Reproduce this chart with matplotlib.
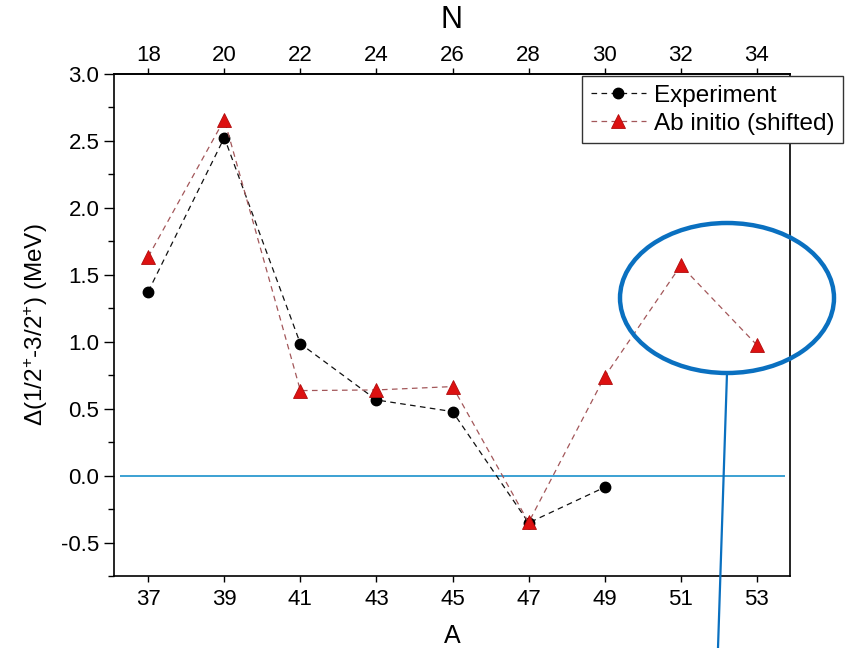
import matplotlib
matplotlib.use("Agg")
import matplotlib.pyplot as plt
from matplotlib.patches import Ellipse
from matplotlib.ticker import MultipleLocator

# mass number A and measured / computed level splitting (MeV)
A_EXP = [37, 39, 41, 43, 45, 47, 49]
DELTA_EXP = [1.375, 2.525, 0.985, 0.565, 0.478, -0.353, -0.087]

A_THEORY = [37, 39, 41, 43, 45, 47, 49, 51, 53]
DELTA_THEORY = [1.635, 2.66, 0.635, 0.64, 0.665, -0.35, 0.74, 1.57, 0.975]

A_TICKS = [37, 39, 41, 43, 45, 47, 49, 51, 53]
N_TICKS = [18, 20, 22, 24, 26, 28, 30, 32, 34]
Z = 19  # potassium isotopes: N = A - Z

plt.rcParams["font.family"] = ["Liberation Sans", "DejaVu Sans"]
plt.rcParams["mathtext.default"] = "regular"

W, H = 850, 648
fig = plt.figure(figsize=(W / 100, H / 100), dpi=100)
ax = fig.add_axes([114 / W, 1 - 576 / H, 676 / W, 502 / H])

ax.plot(A_EXP, DELTA_EXP, linestyle=(0, (4.5, 3.5)), color="#111111", lw=0.9,
        marker="o", ms=7.5, mfc="black", mec="black", label="Experiment", zorder=3)
ax.plot(A_THEORY, DELTA_THEORY, linestyle=(0, (4.5, 3.5)), color="#a3575a", lw=0.9,
        marker="^", ms=9.5, mfc="#dd1111", mec="#b00c0c", mew=0.6,
        label="Ab initio (shifted)", zorder=4)

ax.hlines(0.0, 36.25, 53.75, color="#2c9ad0", lw=1.3, zorder=2)

ax.set_xlim(36.1, 53.87)
ax.set_ylim(-0.75, 3.0)
ax.set_xticks(A_TICKS)
ax.yaxis.set_major_locator(MultipleLocator(0.5))
ax.yaxis.set_minor_locator(MultipleLocator(0.25))
ax.set_yticklabels([f"{v:.1f}" for v in ax.get_yticks()])

for s in ax.spines.values():
    s.set_linewidth(1.2)
ax.tick_params(axis="both", which="major", labelsize=16, width=1.0, direction="out")
ax.tick_params(axis="y", which="major", length=7.5)
ax.tick_params(axis="y", which="minor", length=4, width=1.0)
ax.tick_params(axis="x", which="major", length=4.5, pad=5)
ax.tick_params(axis="y", pad=3)

ax.set_xlabel("A", fontsize=18, labelpad=10)
ax.set_ylabel("Δ(1/2$^{+}$-3/2$^{+}$) (MeV)", fontsize=17.5, labelpad=8)

top = ax.secondary_xaxis("top", functions=(lambda a: a - Z, lambda n: n + Z))
top.set_xticks(N_TICKS)
top.tick_params(labelsize=16, length=4, width=1.0, direction="out", pad=2)
top.set_xlabel("N", fontsize=22, labelpad=12)
top.spines["top"].set_linewidth(1.2)

leg = fig.legend(loc="upper left", bbox_to_anchor=(582 / W, 1 - 76 / H),
                 borderaxespad=0, fontsize=17.5, frameon=True, fancybox=False,
                 edgecolor="#333333", framealpha=1, handlelength=2.3,
                 handletextpad=0.3, borderpad=0.35, labelspacing=0.25)
leg.get_frame().set_linewidth(1.0)

# highlight of the predicted A = 51, 53 points
fig.add_artist(Ellipse((727 / W, 1 - 298 / H), 214 / W, 150 / H,
                       transform=fig.transFigure, fill=False,
                       edgecolor="#0a70c0", lw=3.2, zorder=10))
fig.add_artist(plt.Line2D([727 / W, 718 / W], [1 - 373 / H, 0.0],
                          transform=fig.transFigure, color="#0a70c0", lw=1.6, zorder=10))

fig.savefig("out.png", dpi=100)
